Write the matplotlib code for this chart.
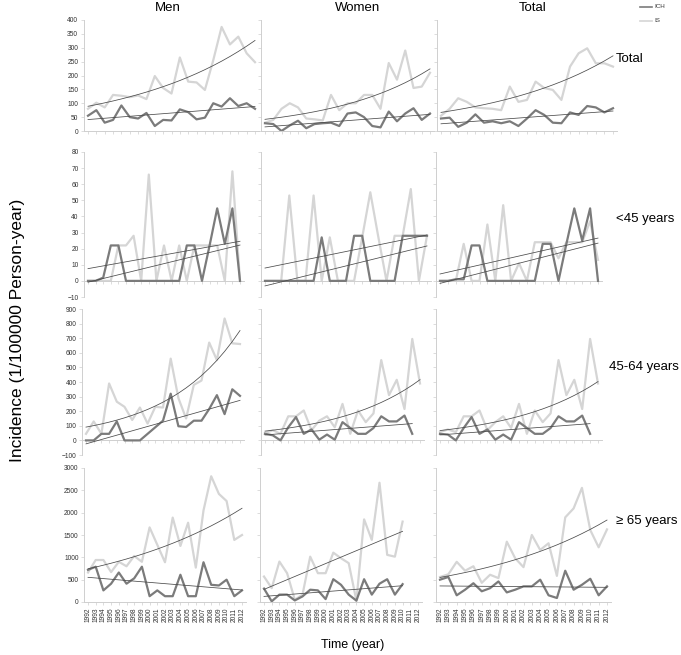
import numpy as np
import matplotlib
matplotlib.use("Agg")
import matplotlib.pyplot as plt

plt.rcParams['font.family'] = ['Liberation Sans', 'DejaVu Sans']

years = list(range(1992, 2013))
col_titles = ["Men", "Women", "Total"]
row_titles = ["Total", "<45 years", "45-64 years", "\u2265 65 years"]

# Total
men_total_ich = [55, 75, 30, 40, 92, 50, 45, 65, 18, 40, 38, 78, 68, 42, 48, 100, 88, 118, 90, 100, 80]
men_total_is = [80, 102, 85, 130, 127, 122, 128, 115, 198, 155, 135, 265, 178, 175, 148, 255, 375, 312, 340, 280, 248]
women_total_ich = [28, 25, 0, 20, 37, 10, 25, 28, 30, 18, 63, 67, 50, 18, 13, 70, 35, 63, 82, 40, 63]
women_total_is = [30, 40, 80, 100, 85, 45, 42, 38, 130, 75, 100, 100, 130, 130, 80, 245, 185, 290, 155, 160, 210]
all_total_ich = [45, 48, 15, 30, 60, 30, 35, 28, 35, 18, 45, 75, 58, 30, 28, 67, 58, 90, 85, 67, 82]
all_total_is = [55, 80, 118, 105, 85, 82, 80, 75, 160, 105, 112, 178, 155, 148, 112, 232, 280, 298, 244, 244, 232]

# <45 years
men_u45_ich = [0, 0, 2, 22, 22, 0, 0, 0, 0, 0, 0, 0, 0, 22, 22, 0, 22, 45, 23, 45, 0]
men_u45_is = [0, 0, 0, 0, 22, 22, 28, 0, 66, 0, 22, 0, 22, 0, 22, 22, 22, 22, 0, 68, 0]
women_u45_ich = [0, 0, 0, 0, 0, 0, 0, 27, 0, 0, 0, 28, 28, 0, 0, 0, 0, 28, 28, 28, 28]
women_u45_is = [0, 0, 0, 53, 0, 0, 53, 0, 27, 0, 0, 0, 27, 55, 27, 0, 28, 28, 57, 0, 28]
all_u45_ich = [0, 0, 1, 1, 22, 22, 0, 0, 0, 0, 0, 0, 0, 23, 23, 0, 23, 45, 25, 45, 0]
all_u45_is = [0, 0, 0, 23, 0, 0, 35, 0, 47, 0, 11, 0, 24, 24, 24, 14, 24, 24, 24, 37, 13]

# 45-64 years
men_mid_ich = [0, 0, 45, 45, 130, 0, 0, 0, 45, 90, 135, 320, 97, 92, 135, 135, 215, 310, 180, 350, 305]
men_mid_is = [45, 130, 45, 390, 265, 230, 140, 225, 115, 230, 225, 560, 290, 150, 380, 410, 670, 550, 835, 665, 660]
women_mid_ich = [45, 35, 0, 90, 160, 45, 75, 5, 40, 5, 125, 85, 45, 45, 85, 165, 130, 130, 170, 45, np.nan]
women_mid_is = [50, 70, 45, 165, 165, 205, 70, 135, 165, 90, 250, 45, 205, 125, 185, 550, 310, 415, 215, 695, 390]
all_mid_ich = [45, 40, 0, 85, 160, 45, 75, 5, 40, 5, 125, 85, 45, 45, 85, 165, 130, 130, 170, 45, np.nan]
all_mid_is = [57, 75, 57, 165, 165, 205, 70, 125, 165, 85, 250, 45, 205, 125, 185, 550, 310, 415, 215, 695, 390]

# >=65 years
men_old_ich = [720, 790, 260, 410, 660, 410, 530, 790, 130, 260, 130, 130, 610, 130, 130, 890, 385, 370, 500, 130, 260]
men_old_is = [660, 940, 940, 670, 900, 800, 1030, 900, 1670, 1280, 890, 1890, 1255, 1775, 770, 2050, 2815, 2420, 2260, 1390, 1500]
women_old_ich = [300, 15, 165, 165, 35, 125, 275, 260, 65, 510, 385, 165, 30, 510, 165, 410, 510, 165, 400, np.nan, np.nan]
women_old_is = [570, 310, 905, 645, 50, 165, 1015, 645, 645, 1105, 980, 870, 30, 1850, 1390, 2670, 1055, 1015, 1800, np.nan, np.nan]
all_old_ich = [500, 560, 150, 275, 420, 240, 310, 460, 215, 275, 350, 350, 500, 150, 90, 700, 275, 385, 520, 150, 350]
all_old_is = [560, 620, 900, 700, 800, 430, 610, 535, 1350, 980, 780, 1500, 1165, 1315, 585, 1895, 2095, 2555, 1610, 1225, 1625]

panels = [
    [(men_total_ich, men_total_is), (women_total_ich, women_total_is), (all_total_ich, all_total_is)],
    [(men_u45_ich, men_u45_is), (women_u45_ich, women_u45_is), (all_u45_ich, all_u45_is)],
    [(men_mid_ich, men_mid_is), (women_mid_ich, women_mid_is), (all_mid_ich, all_mid_is)],
    [(men_old_ich, men_old_is), (women_old_ich, women_old_is), (all_old_ich, all_old_is)],
]
# trend type for IS per panel ('exp' or 'lin'); ICH is always linear
is_trend = [["exp", "exp", "exp"], ["lin", "lin", "lin"], ["exp", "exp", "exp"], ["exp", "lin", "exp"]]

# layout in pixels
W, H = 681, 655
col_px = [
    [(88, 255), (265, 430), (441, 613)],
    [(88, 240), (265, 427), (440, 598)],
    [(86, 240), (265, 420), (440, 598)],
    [(88, 242), (264, 418), (440, 607)],
]
row_px = [(20, 131), (152, 297), (309, 455), (468, 602)]
row_lim = [(0, 400), (-10, 80), (-100, 900), (0, 3000)]
row_ticks = [np.arange(0, 401, 50), np.arange(-10, 81, 10), np.arange(-100, 901, 100), np.arange(0, 3001, 500)]

ICH_C = "#7b7b7b"
IS_C = "#d5d5d5"
TR_C = "#4a4a4a"
AX_C = "#cfcfcf"

fig = plt.figure(figsize=(W / 100, H / 100), dpi=100)


def trend(x, y, kind):
    x = np.asarray(x, float)
    y = np.asarray(y, float)
    m = ~np.isnan(y)
    x, y = x[m], y[m]
    if kind == "exp":
        b, a = np.polyfit(x, np.log(y), 1)
        return x, np.exp(a + b * x)
    b, a = np.polyfit(x, y, 1)
    return x, a + b * x


for r in range(4):
    ytop, ybot = row_px[r]
    for c in range(3):
        x0, x1 = col_px[r][c]
        sp = (x1 - x0) / 20
        left = (x0 - sp / 2) / W
        width = (x1 - x0 + sp) / W
        ax = fig.add_axes([left, 1 - ybot / H, width, (ybot - ytop) / H])
        ich, is_ = panels[r][c]
        ax.plot(years, is_, color=IS_C, lw=1.6, zorder=2)
        ax.plot(years, ich, color=ICH_C, lw=1.6, zorder=3)
        tx, ty = trend(years, is_, is_trend[r][c])
        ax.plot(tx, ty, color=TR_C, lw=0.55, zorder=4)
        tx, ty = trend(years, ich, "lin")
        ax.plot(tx, ty, color=TR_C, lw=0.55, zorder=4)

        ax.set_xlim(1991.5, 2012.5)
        ax.set_ylim(*row_lim[r])
        ax.set_xticks(years)
        ax.set_yticks(row_ticks[r])
        for s in ["top", "right"]:
            ax.spines[s].set_visible(False)
        ax.spines["left"].set_color(AX_C)
        ax.spines["left"].set_linewidth(0.7)
        ax.spines["bottom"].set_position(("data", 0))
        ax.spines["bottom"].set_color(AX_C)
        ax.spines["bottom"].set_linewidth(0.7)
        ax.tick_params(length=2, width=0.5, color=AX_C, labelsize=4.8,
                       labelcolor="#333333", pad=2)
        if r == 3:
            ax.set_xticklabels([str(y) for y in years], rotation=90)
        else:
            ax.set_xticklabels([])
        if c != 0:
            ax.set_yticklabels([])
        ax.patch.set_alpha(0)

# column titles and row labels
for x, t in zip([168, 358, 533], col_titles):
    fig.text(x / W, 1 - 8 / H, t, fontsize=9.5, ha="center", va="center")
for y, t in zip([59, 219, 367, 521], row_titles):
    fig.text(616 / W if t != "45-64 years" else 609 / W, 1 - y / H, t, fontsize=9.5, ha="left", va="center")

# legend
fig.lines.append(plt.Line2D([640 / W, 652 / W], [1 - 7 / H, 1 - 7 / H], color=ICH_C, lw=1.2, transform=fig.transFigure))
fig.lines.append(plt.Line2D([640 / W, 652 / W], [1 - 21 / H, 1 - 21 / H], color=IS_C, lw=1.2, transform=fig.transFigure))
fig.text(654 / W, 1 - 7 / H, "ICH", fontsize=4.5, va="center", color="#333333")
fig.text(654 / W, 1 - 21 / H, "IS", fontsize=4.5, va="center", color="#333333")

fig.text(18 / W, 1 - 330 / H, "Incidence (1/100000 Person-year)", fontsize=12.5,
         rotation=90, ha="center", va="center")
fig.text(353 / W, 1 - 645 / H, "Time (year)", fontsize=9, ha="center", va="center")

fig.savefig("out.png", dpi=100)
